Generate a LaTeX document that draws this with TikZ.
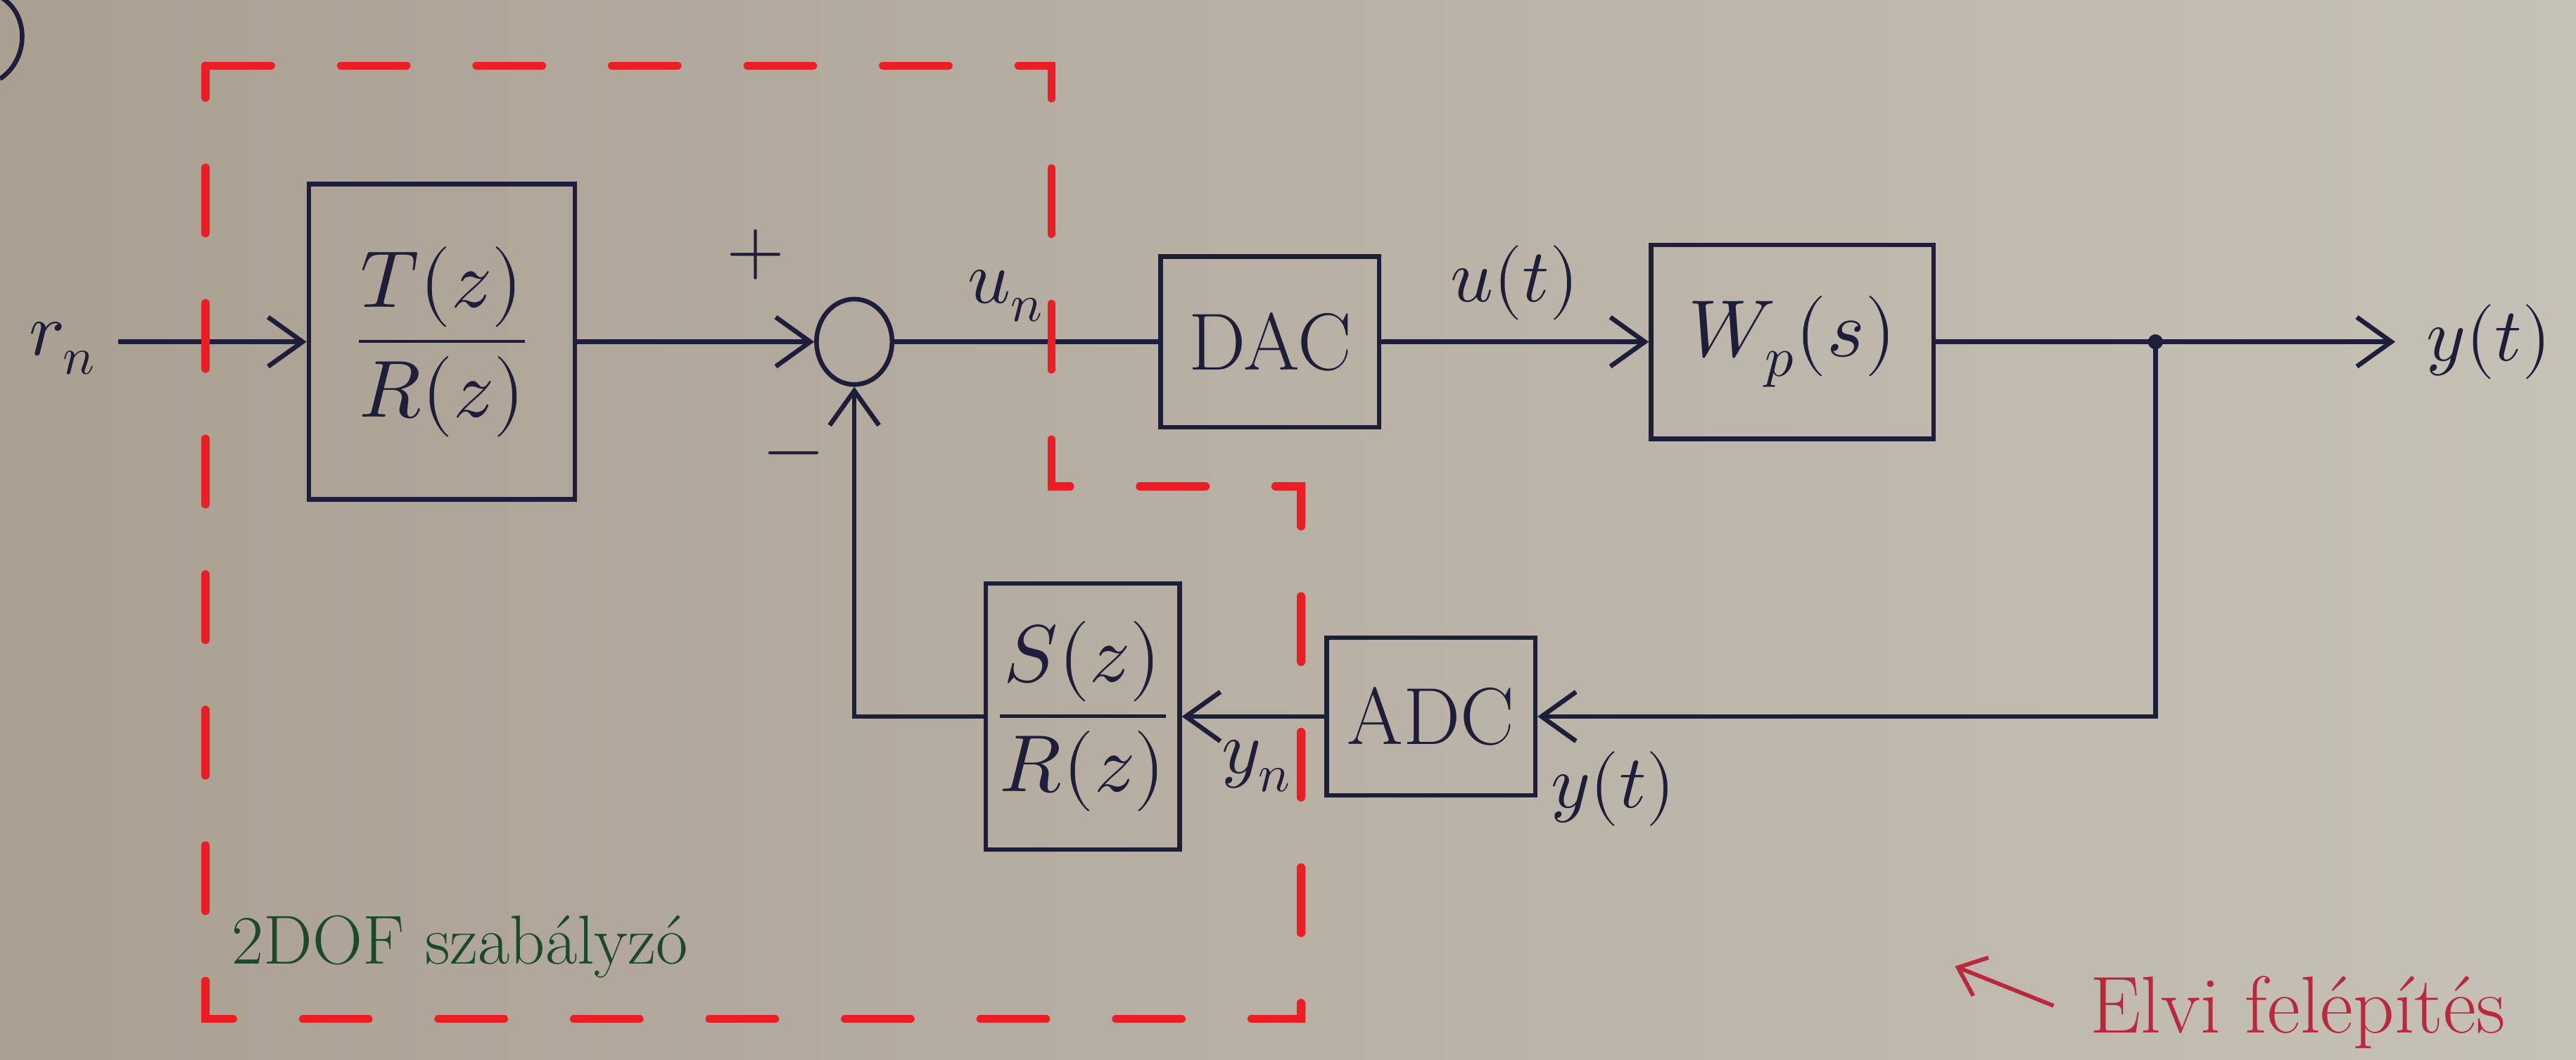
\documentclass[tikz,border=0pt]{standalone}
\usepackage{unicode-math}
\setmathfont{Latin Modern Math}
\usetikzlibrary{arrows.meta,shapes.geometric}
\definecolor{ink}{RGB}{30,30,58}
\definecolor{redpen}{RGB}{235,30,38}
\definecolor{greenpen}{RGB}{28,72,44}
\definecolor{redink}{RGB}{185,40,60}
\definecolor{paperL}{RGB}{170,160,146}
\definecolor{paperR}{RGB}{198,193,182}
\tikzset{
  wire/.style={draw=ink, line width=1.6pt},
  arr/.style={wire, -{Straight Barb[length=4.2mm,width=6mm]}},
  blk/.style={draw=ink, line width=1.6pt, inner sep=0pt, font=\fontsize{28}{34}\selectfont, text=ink},
  lab/.style={font=\fontsize{26}{30}\selectfont, text=ink, inner sep=0pt},
  sumn/.style={ellipse, draw=ink, line width=1.6pt, minimum width=0.92cm, minimum height=1.04cm, inner sep=0pt},
  reddash/.style={draw=redpen, line width=2.8pt, line cap=round, dash pattern=on 0.8cm off 0.85cm}
}
\begin{document}
\begin{tikzpicture}[x={(0.02cm,0)}, y={(0,-0.02cm)}]
\useasboundingbox (0,0) rectangle (1568,645);
\shade[left color=paperL, right color=paperR] (0,0) rectangle (1568,645);

% corner mark
\draw[wire] (0,-2) .. controls (18,8) and (18,36) .. (0,48);

% blocks
\coordinate (in) at (72,208);
\node[lab] (rn) at (38,212) {$r_n$};
\node[blk, minimum width=3.24cm, minimum height=3.84cm] (TR) at (269,208) {$\dfrac{T(z)}{R(z)}$};
\node[sumn] (sum) at (520,208) {};
\node[blk, minimum width=2.66cm, minimum height=2.08cm] (DAC) at (773,208) {DAC};
\node[blk, minimum width=3.44cm, minimum height=2.36cm] (Wp) at (1091,208) {$W_p(s)$};
\coordinate (jn) at (1312,208);
\coordinate (out) at (1458,208);
\node[lab] (yt) at (1515,208) {$y(t)$};
\node[blk, minimum width=2.54cm, minimum height=1.92cm] (ADC) at (871,436) {ADC};
\node[blk, minimum width=2.36cm, minimum height=3.24cm] (SR) at (659,436) {$\dfrac{S(z)}{R(z)}$};

% connectors
\draw[arr] (in) -- (TR.west);
\draw[arr] (TR.east) -- (sum.west);
\draw[wire] (sum.east) -- (DAC.west);
\draw[arr] (DAC.east) -- (Wp.west);
\draw[wire] (Wp.east) -- (jn);
\draw[arr] (jn) -- (out);
\fill[ink] (jn) circle (2.6pt);
\draw[arr] (jn) |- (ADC.east);
\draw[arr] (ADC.west) -- (SR.east);
\draw[arr] (SR.west) -| (sum.south);

% labels
\node[lab] (plus) at (460,155) {$+$};
\node[lab] (minus) at (483,281) {$-$};
\node[lab] (un) at (612,180) {$u_n$};
\node[lab] (ut) at (922,172) {$u(t)$};
\node[lab] (yn) at (765,466) {$y_n$};
\node[lab] (yt2) at (982,480) {$y(t)$};

% red dashed frame
\draw[reddash] (125,40) -- (640,40) -- (640,296) -- (792,296) -- (792,620) -- (125,620) -- cycle;

% annotations
\node[font=\fontsize{24}{28}\selectfont, text=greenpen, inner sep=0pt] (ctl) at (280,576) {2DOF szabályzó};
\coordinate (aS) at (1250,612);
\coordinate (aE) at (1190,588);
\draw[draw=redink, line width=1.4pt, -{Straight Barb[length=3mm,width=5mm]}] (aS) -- (aE);
\node[font=\fontsize{28}{32}\selectfont, text=redink, inner sep=0pt, anchor=west] (elvi) at (1272,616) {Elvi felépítés};
\end{tikzpicture}
\end{document}
